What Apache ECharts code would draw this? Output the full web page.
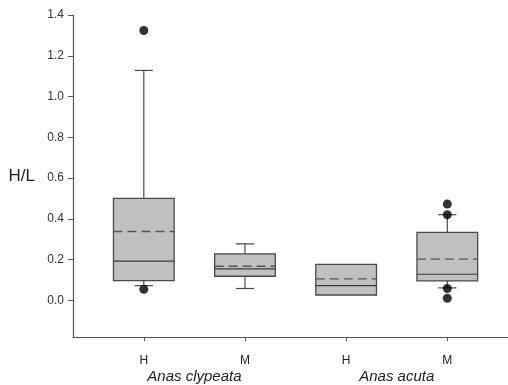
<!DOCTYPE html>
<html>
<head>
<meta charset="utf-8">
<script src="https://cdn.jsdelivr.net/npm/echarts@6/dist/echarts.min.js"></script>
<style>
  html, body { margin: 0; padding: 0; background: #fff; }
  #chart { width: 508px; height: 385px; }
</style>
</head>
<body>
<div id="chart"></div>
<script>
// groups along x, species under each pair
const groups = ['H', 'M', 'H', 'M']
const species = ['Anas clypeata', 'Anas acuta']
const xPos = [1, 2, 3, 4]
const speciesPos = [1.5, 3.5]

// box statistics per group
const lowWhisker  = [0.072, 0.058, 0.026, 0.061]
const q1          = [0.097, 0.118, 0.026, 0.095]
const median      = [0.192, 0.154, 0.072, 0.128]
const q3          = [0.500, 0.228, 0.176, 0.333]
const highWhisker = [1.128, 0.277, 0.176, 0.420]
const mean        = [0.338, 0.167, 0.105, 0.202]

// outliers: [group position, value]
const outliers = [[1, 1.324], [1, 0.054], [4, 0.472], [4, 0.420], [4, 0.058], [4, 0.010]]

const yTicks = [0, 0.2, 0.4, 0.6, 0.8, 1.0, 1.2, 1.4]

const FONT = 'Liberation Sans, Arial, sans-serif'
const EDGE = '#4a4a4a'

const boxData = xPos.map((x, i) => [x, lowWhisker[i], q1[i], median[i], q3[i], highWhisker[i], mean[i]])

function renderBox(params, api) {
  const x = api.value(0)
  const pt = v => api.coord([x, v])
  const lo = pt(api.value(1)), b = pt(api.value(2)), md = pt(api.value(3))
  const t = pt(api.value(4)), hi = pt(api.value(5)), mn = pt(api.value(6))
  const bw = api.size([0.6, 0])[0], cw = api.size([0.18, 0])[0]
  const cx = t[0]
  const line = (x1, y1, x2, y2, extra) => ({
    type: 'line', shape: { x1, y1, x2, y2 },
    style: Object.assign({ stroke: EDGE, lineWidth: 1.2 }, extra || {})
  })
  const kids = []
  if (hi[1] < t[1] - 0.5) {
    kids.push(line(cx, t[1], cx, hi[1]))
    kids.push(line(cx - cw / 2, hi[1], cx + cw / 2, hi[1]))
  }
  if (lo[1] > b[1] + 0.5) {
    kids.push(line(cx, b[1], cx, lo[1]))
    kids.push(line(cx - cw / 2, lo[1], cx + cw / 2, lo[1]))
  }
  kids.push({
    type: 'rect', shape: { x: cx - bw / 2, y: t[1], width: bw, height: b[1] - t[1] },
    style: { fill: '#c0c0c0', stroke: EDGE, lineWidth: 1.3 }
  })
  kids.push(line(cx - bw / 2, md[1], cx + bw / 2, md[1], { stroke: '#3a3a3a' }))
  kids.push(line(cx - bw / 2, mn[1], cx + bw / 2, mn[1], { stroke: '#555', lineWidth: 1.4, lineDash: [9, 5] }))
  return { type: 'group', children: kids }
}

const chart = echarts.init(document.getElementById('chart'), null, { renderer: 'canvas' })
chart.setOption({
  animation: false,
  backgroundColor: '#fff',
  grid: { left: 73, right: 0, top: 15, bottom: 48 },
  xAxis: [{
    type: 'value', min: 0.3, max: 4.6,
    axisLine: { show: true, onZero: false, lineStyle: { color: '#555', width: 1.2 } },
    axisTick: { show: true, customValues: xPos, length: 4, lineStyle: { color: '#555' } },
    axisLabel: {
      customValues: xPos, formatter: v => groups[Math.round(v) - 1],
      margin: 18, fontSize: 12, color: '#222', fontFamily: FONT
    },
    splitLine: { show: false }
  }, {
    type: 'value', min: 0.3, max: 4.6, position: 'bottom',
    axisLine: { show: false }, axisTick: { show: false },
    axisLabel: {
      customValues: speciesPos, formatter: v => species[v < 2.5 ? 0 : 1],
      margin: 32, fontSize: 15, fontStyle: 'italic', color: '#222', fontFamily: FONT
    },
    splitLine: { show: false }
  }],
  yAxis: {
    type: 'value', min: -0.18, max: 1.4,
    name: 'H/L', nameLocation: 'middle', nameRotate: 0, nameGap: 38,
    nameTextStyle: { fontSize: 17, color: '#222', fontFamily: FONT, padding: [11, 0, 0, 0] },
    axisLine: { show: true, onZero: false, lineStyle: { color: '#555', width: 1.2 } },
    axisTick: { show: true, customValues: yTicks, length: 5, lineStyle: { color: '#555' } },
    axisLabel: {
      customValues: yTicks, formatter: v => v.toFixed(1),
      margin: 9, fontSize: 12, color: '#333', fontFamily: FONT
    },
    splitLine: { show: false }
  },
  series: [{
    type: 'custom', xAxisIndex: 0, data: boxData, renderItem: renderBox,
    encode: { x: 0, y: [1, 2, 3, 4, 5, 6] }, z: 2
  }, {
    type: 'scatter', xAxisIndex: 0, data: outliers, symbolSize: 9,
    itemStyle: { color: '#000' }, z: 3
  }]
})
</script>
</body>
</html>
